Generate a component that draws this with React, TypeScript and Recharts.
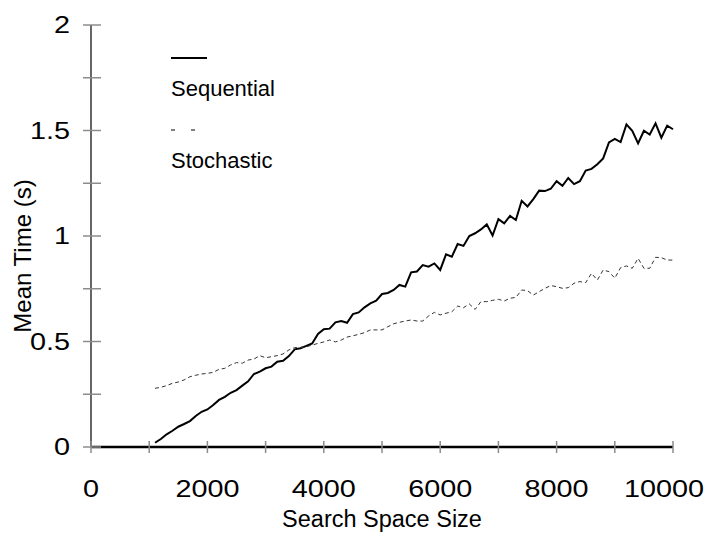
import React from "react"
import { LineChart, Line, XAxis, YAxis, Legend } from "recharts"

const FONT = '"Liberation Sans", Arial, Helvetica, sans-serif'

// search space sizes sampled on each run
const sizes = [
  1100, 1200, 1300, 1400, 1500, 1600, 1700, 1800, 1900, 2000,
  2100, 2200, 2300, 2400, 2500, 2600, 2700, 2800, 2900, 3000,
  3100, 3200, 3300, 3400, 3500, 3600, 3700, 3800, 3900, 4000,
  4100, 4200, 4300, 4400, 4500, 4600, 4700, 4800, 4900, 5000,
  5100, 5200, 5300, 5400, 5500, 5600, 5700, 5800, 5900, 6000,
  6100, 6200, 6300, 6400, 6500, 6600, 6700, 6800, 6900, 7000,
  7100, 7200, 7300, 7400, 7500, 7600, 7700, 7800, 7900, 8000,
  8100, 8200, 8300, 8400, 8500, 8600, 8700, 8800, 8900, 9000,
  9100, 9200, 9300, 9400, 9500, 9600, 9700, 9800, 9900, 10000,
]

// mean time in seconds
const sequential = [
  0.020, 0.038, 0.060, 0.077, 0.096, 0.109, 0.123, 0.147, 0.167, 0.178,
  0.199, 0.223, 0.238, 0.257, 0.270, 0.291, 0.311, 0.346, 0.357, 0.373,
  0.381, 0.404, 0.409, 0.431, 0.463, 0.468, 0.479, 0.491, 0.536, 0.558,
  0.561, 0.591, 0.597, 0.589, 0.630, 0.638, 0.662, 0.681, 0.693, 0.725,
  0.730, 0.744, 0.768, 0.760, 0.828, 0.832, 0.862, 0.855, 0.870, 0.839,
  0.913, 0.902, 0.962, 0.953, 1.000, 1.013, 1.031, 1.055, 1.002, 1.080,
  1.060, 1.095, 1.076, 1.167, 1.140, 1.175, 1.215, 1.213, 1.224, 1.260,
  1.238, 1.275, 1.246, 1.260, 1.310, 1.318, 1.340, 1.368, 1.444, 1.460,
  1.445, 1.529, 1.498, 1.439, 1.499, 1.481, 1.534, 1.466, 1.523, 1.506,
]

const stochastic = [
  0.278, 0.283, 0.291, 0.302, 0.308, 0.318, 0.333, 0.340, 0.346, 0.349,
  0.354, 0.368, 0.373, 0.389, 0.400, 0.397, 0.412, 0.417, 0.433, 0.423,
  0.428, 0.433, 0.441, 0.460, 0.471, 0.472, 0.475, 0.483, 0.491, 0.498,
  0.507, 0.498, 0.507, 0.521, 0.527, 0.534, 0.542, 0.555, 0.555, 0.555,
  0.570, 0.584, 0.591, 0.597, 0.602, 0.597, 0.597, 0.621, 0.638, 0.626,
  0.634, 0.641, 0.668, 0.660, 0.678, 0.652, 0.689, 0.689, 0.695, 0.700,
  0.692, 0.705, 0.709, 0.744, 0.741, 0.720, 0.736, 0.752, 0.765, 0.760,
  0.752, 0.755, 0.776, 0.784, 0.779, 0.823, 0.791, 0.839, 0.831, 0.800,
  0.850, 0.858, 0.847, 0.894, 0.847, 0.847, 0.899, 0.897, 0.886, 0.886,
]

const xTicks = [0, 1000, 2000, 3000, 4000, 5000, 6000, 7000, 8000, 9000, 10000]
const xLabels = [0, 2000, 4000, 6000, 8000, 10000]
const yTicks = [0, 0.25, 0.5, 0.75, 1, 1.25, 1.5, 1.75, 2]
const yLabels = [0, 0.5, 1, 1.5, 2]

const data = sizes.map((size, i) => ({
  size,
  Sequential: sequential[i],
  Stochastic: stochastic[i],
}))

const TICK_GRAY = "#8c8c8c"
const TICK_FS = 24
const TICK_STRETCH = 1.2 // tick numerals are drawn a little wide

// tick marks straddle the axis line; only every other one gets a label
function XTick({ x, y, payload }: any) {
  const v = payload.value
  const half = (String(v).length * 0.556 * TICK_FS * TICK_STRETCH) / 2
  const cx = Math.min(x, 704 - half)
  return (
    <g>
      <line x1={x} x2={x} y1={y - 6} y2={y + 6} stroke={TICK_GRAY} strokeWidth={1.5} />
      {xLabels.includes(v) && (
        <text
          transform={`translate(${cx} ${y + 50}) scale(${TICK_STRETCH} 1)`}
          textAnchor="middle"
          fontSize={TICK_FS}
          fontFamily={FONT}
          fill="#000"
        >
          {v}
        </text>
      )}
    </g>
  )
}

function YTick({ x, y, payload }: any) {
  const v = payload.value
  return (
    <g>
      <line x1={x - 8} x2={x + 10} y1={y} y2={y} stroke={TICK_GRAY} strokeWidth={1.5} />
      {yLabels.includes(v) && (
        <text
          transform={`translate(${x - 21} ${y + 8}) scale(${TICK_STRETCH} 1)`}
          textAnchor="end"
          fontSize={TICK_FS}
          fontFamily={FONT}
          fill="#000"
        >
          {v}
        </text>
      )}
    </g>
  )
}

function YTitle({ viewBox }: any) {
  const cx = viewBox.x + 22
  const cy = viewBox.y + viewBox.height / 2 + 20
  return (
    <text
      x={cx}
      y={cy}
      transform={`rotate(-90 ${cx} ${cy})`}
      textAnchor="middle"
      dominantBaseline="central"
      fontSize={24}
      fontFamily={FONT}
      fill="#000"
    >
      Mean Time (s)
    </text>
  )
}

function LegendBox({ payload }: any) {
  return (
    <div style={{ fontFamily: FONT, fontSize: 22, color: "#000" }}>
      {(payload || []).map((item: any) => {
        const dashed = !!item.payload?.strokeDasharray
        return (
          <div key={item.value} style={{ marginBottom: 21 }}>
            <svg width={40} height={16} style={{ display: "block" }}>
              <line
                x1={0}
                x2={36}
                y1={8}
                y2={8}
                stroke="#000"
                strokeWidth={dashed ? 1 : 2}
                strokeDasharray={dashed ? "4 16" : undefined}
              />
            </svg>
            <div style={{ marginTop: 10, lineHeight: "25px" }}>{item.value}</div>
          </div>
        )
      })}
    </div>
  )
}

export default function App() {
  return (
    <div style={{ position: "absolute", left: 0, top: 0, background: "#fff" }}>
      <LineChart width={712} height={537} data={data} margin={{ top: 25, right: 39, bottom: 0, left: 0 }}>
        <XAxis
          type="number"
          dataKey="size"
          domain={[0, 10000]}
          ticks={xTicks}
          interval={0}
          height={90}
          tickSize={0}
          tickMargin={0}
          tickLine={false}
          axisLine={{ stroke: "#000", strokeWidth: 2.5 }}
          tick={<XTick />}
          label={{
            value: "Search Space Size",
            position: "insideBottom",
            offset: 10,
            fontSize: 23.5,
            fontFamily: FONT,
            fill: "#000",
          }}
        />
        <YAxis
          type="number"
          domain={[0, 2]}
          ticks={yTicks}
          interval={0}
          width={91}
          tickSize={0}
          tickMargin={0}
          tickLine={false}
          axisLine={{ stroke: "#333", strokeWidth: 1.5 }}
          tick={<YTick />}
          label={<YTitle />}
        />
        <Legend
          layout="vertical"
          verticalAlign="middle"
          align="center"
          content={<LegendBox />}
          wrapperStyle={{ position: "absolute", left: 171, top: 50, width: "auto" }}
        />
        <Line
          type="linear"
          dataKey="Sequential"
          stroke="#000"
          strokeWidth={2}
          dot={false}
          isAnimationActive={false}
        />
        <Line
          type="linear"
          dataKey="Stochastic"
          stroke="#333"
          strokeWidth={1}
          strokeDasharray="4 3"
          dot={false}
          isAnimationActive={false}
        />
      </LineChart>
    </div>
  )
}
